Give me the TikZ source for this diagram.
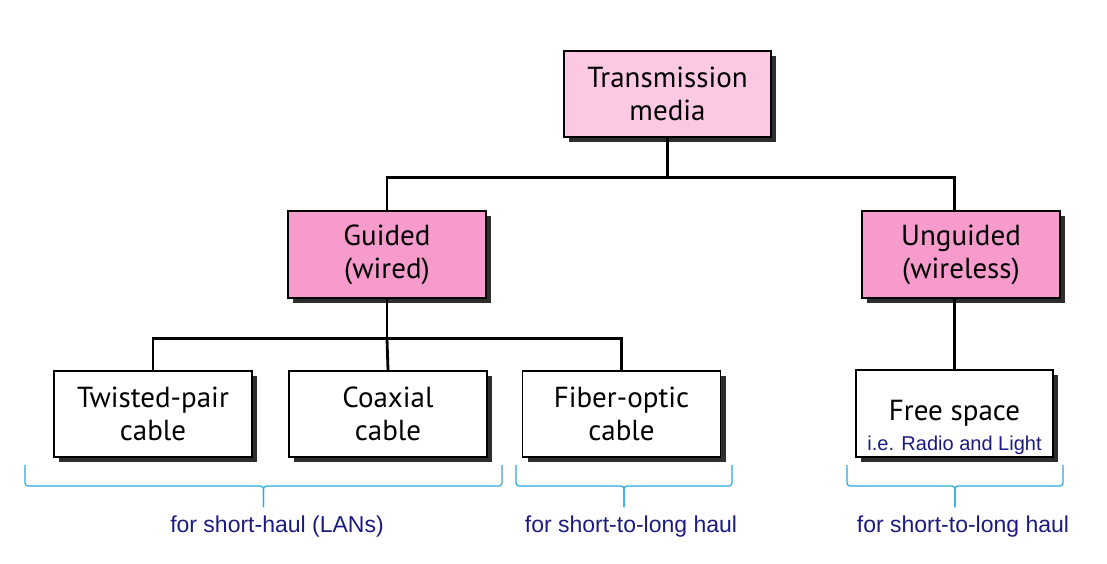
\documentclass[tikz,border=0pt]{standalone}
\usepackage{fontspec}
\setmainfont{PT Sans}
\newfontfamily\notefont{Liberation Sans}
\usetikzlibrary{shadows}

\definecolor{mediapink}{HTML}{FCC8E4}
\definecolor{classpink}{HTML}{F79BCC}
\definecolor{notenavy}{HTML}{1B1B80}
\definecolor{bracecyan}{HTML}{2AA8E0}

\tikzset{
  box/.style={draw=black, line width=1.6pt, fill=white, align=center,
    font=\fontsize{29}{33}\selectfont, inner sep=0pt,
    drop shadow={shadow xshift=5pt, shadow yshift=-5pt, fill=black!82, opacity=1}},
  link/.style={line width=2.8pt},
  span/.style={draw=bracecyan, line width=1.2pt, rounded corners=3pt},
  note/.style={text=notenavy, font=\notefont\fontsize{23}{25}\selectfont}
}

\begin{document}
\begin{tikzpicture}[x=1pt,y=1pt]
  \useasboundingbox (0,0) rectangle (1107,563);
  % tree of boxes
  \node[box, fill=mediapink, minimum width=207pt, minimum height=86pt] (media) at (667.5,469) {Transmission\\media};
  \node[box, fill=classpink, minimum width=198pt, minimum height=87pt] (guided) at (387,308.5) {Guided\\(wired)};
  \node[box, fill=classpink, minimum width=198pt, minimum height=87pt] (unguided) at (961,308.5) {Unguided\\(wireless)};
  \node[box, minimum width=198pt, minimum height=86pt] (twisted) at (153,149) {Twisted-pair\\cable};
  \node[box, minimum width=198pt, minimum height=86pt] (coax) at (388,149) {Coaxial\\cable};
  \node[box, minimum width=198pt, minimum height=86pt] (fiber) at (621.5,149) {Fiber-optic\\cable};
  \node[box, minimum width=197pt, minimum height=87pt,
    label={[anchor=base, yshift=7pt, text=notenavy, font=\notefont\fontsize{20}{22}\selectfont]south:i.e. Radio and Light}]
    (free) at (954.5,149.5) {\raisebox{-2pt}{Free space}};
  % connectors
  \coordinate (topbus) at ([yshift=-40pt]media.south);
  \coordinate (lowbus) at ([yshift=-40pt]guided.south);
  \draw[link] (media.south) -- (topbus);
  \draw[link] (guided.north) |- (topbus) -| (free.north |- unguided.north);
  \draw[link] (guided.south) -- (lowbus);
  \draw[link] (twisted.north) |- (lowbus) -| (fiber.north);
  \draw[link] (coax.north) -- (lowbus);
  \draw[link] (free.north) -- (free.north |- unguided.south);
  % braces
  \draw[span] (25,98) |- (263.5,77) -- (263.5,56);
  \draw[span] (502,98) |- (263.5,77) -- (263.5,56);
  \draw[span] (516,98) |- (624,77) -- (624,56);
  \draw[span] (732,98) |- (624,77) -- (624,56);
  \draw[span] (847,98) |- (955,77) -- (955,56);
  \draw[span] (1063,98) |- (955,77) -- (955,56);
  % notes
  \node[note] (lan) at (277,36) {for short-haul (LANs)};
  \node[note] (haul) at (631,36) {for short-to-long haul};
  \node[note] (air) at (963,36) {for short-to-long haul};
\end{tikzpicture}
\end{document}
